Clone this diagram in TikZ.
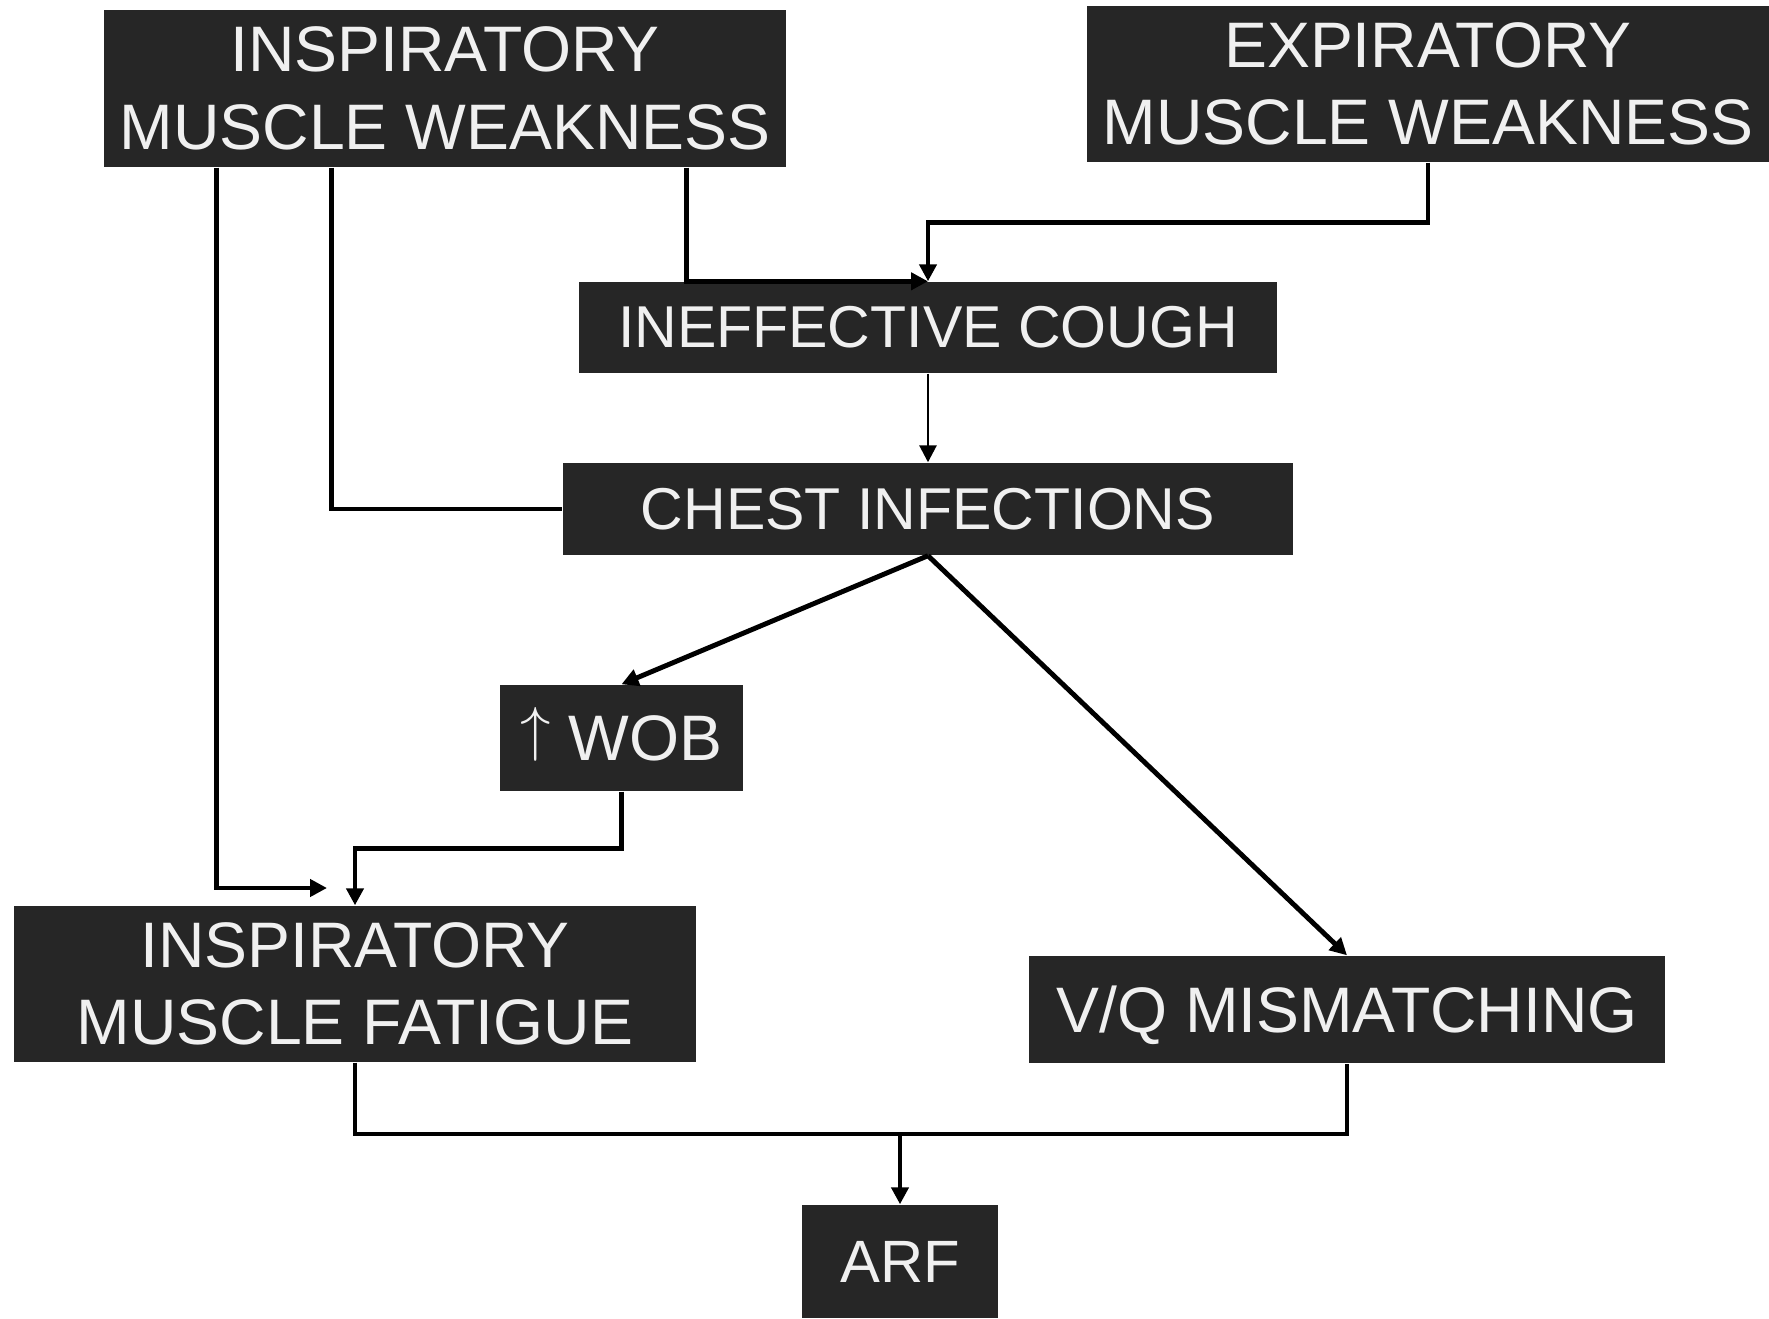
\documentclass[tikz,border=0pt]{standalone}
\usepackage{fontspec}
\setmainfont{Liberation Sans}
\usetikzlibrary{calc}
\usetikzlibrary{arrows.meta}

\definecolor{boxfill}{RGB}{38,38,38}
\definecolor{boxtext}{RGB}{240,240,240}

\begin{document}
\begin{tikzpicture}[
    box/.style={fill=boxfill, text=boxtext, inner sep=0pt, align=center, font=\fontsize{18.3}{22}\selectfont},
    smallbox/.style={box, font=\fontsize{16.8}{20}\selectfont},
    wire/.style={line width=1.4pt},
    link/.style={wire, -{Triangle[length=1.7mm, width=1.7mm]}},
  ]
    \useasboundingbox (0, 0) rectangle (17.69, 13.18);

    \coordinate (IMW) at (4.45, 12.295);
    \coordinate (EMW) at (14.28, 12.34);
    \coordinate (IC) at (9.28, 9.905);
    \coordinate (CI) at (9.28, 8.09);
    \coordinate (WB) at (6.215, 5.80);
    \coordinate (IMF) at (3.55, 3.34);
    \coordinate (VQ) at (13.47, 3.085);
    \coordinate (AR) at (9.00, 0.565);
    \coordinate (F) at (3.27, 4.30);
    \coordinate (J) at (9.00, 1.84);

    \node[box, minimum width=6.82cm, minimum height=1.57cm] (imw) at (IMW) {INSPIRATORY\\MUSCLE WEAKNESS};
    \node[box, minimum width=6.82cm, minimum height=1.56cm] (emw) at (EMW) {EXPIRATORY\\MUSCLE WEAKNESS};
    \node[smallbox, minimum width=6.98cm, minimum height=0.91cm] (cough) at (IC) {INEFFECTIVE COUGH};
    \node[smallbox, minimum width=7.30cm, minimum height=0.92cm] (infect) at (CI) {CHEST INFECTIONS};
    \node[box, minimum width=2.43cm, minimum height=1.06cm] (wob) at (WB) {\smash{\raisebox{0.17em}{$\uparrow$}} WOB};
    \node[box, minimum width=6.82cm, minimum height=1.56cm] (fatigue) at (IMF) {INSPIRATORY\\MUSCLE FATIGUE};
    \node[box, text depth=0pt, minimum width=6.36cm, minimum height=1.07cm] (vq) at (VQ) {V/Q MISMATCHING};
    \node[box, font=\fontsize{17}{20}\selectfont, minimum width=1.96cm, minimum height=1.13cm] (arf) at (AR) {ARF};

    \draw[link] ($(imw.south west)+(1.13,0)$) |- (F);
    \draw[wire] ($(imw.south west)+(2.28,0)$) |- (infect.west);
    \draw[link] ($(imw.south west)+(5.83,0)$) |- (cough.north);
    \draw[link] (emw.south) -- ++(0,-0.60) -| (cough.north);
    \draw[link, line width=0.8pt] (cough.south) -- (infect.north);
    \draw[link] (infect.south) -- (wob.north);
    \draw[link] (infect.south) -- (vq.north);
    \draw[link] (wob.south) -- ++(0,-0.57) -| (fatigue.north);
    \draw[wire] (fatigue.south) |- (J) -| (vq.south);
    \draw[link] (J) -- (arf.north);

\end{tikzpicture}
\end{document}
